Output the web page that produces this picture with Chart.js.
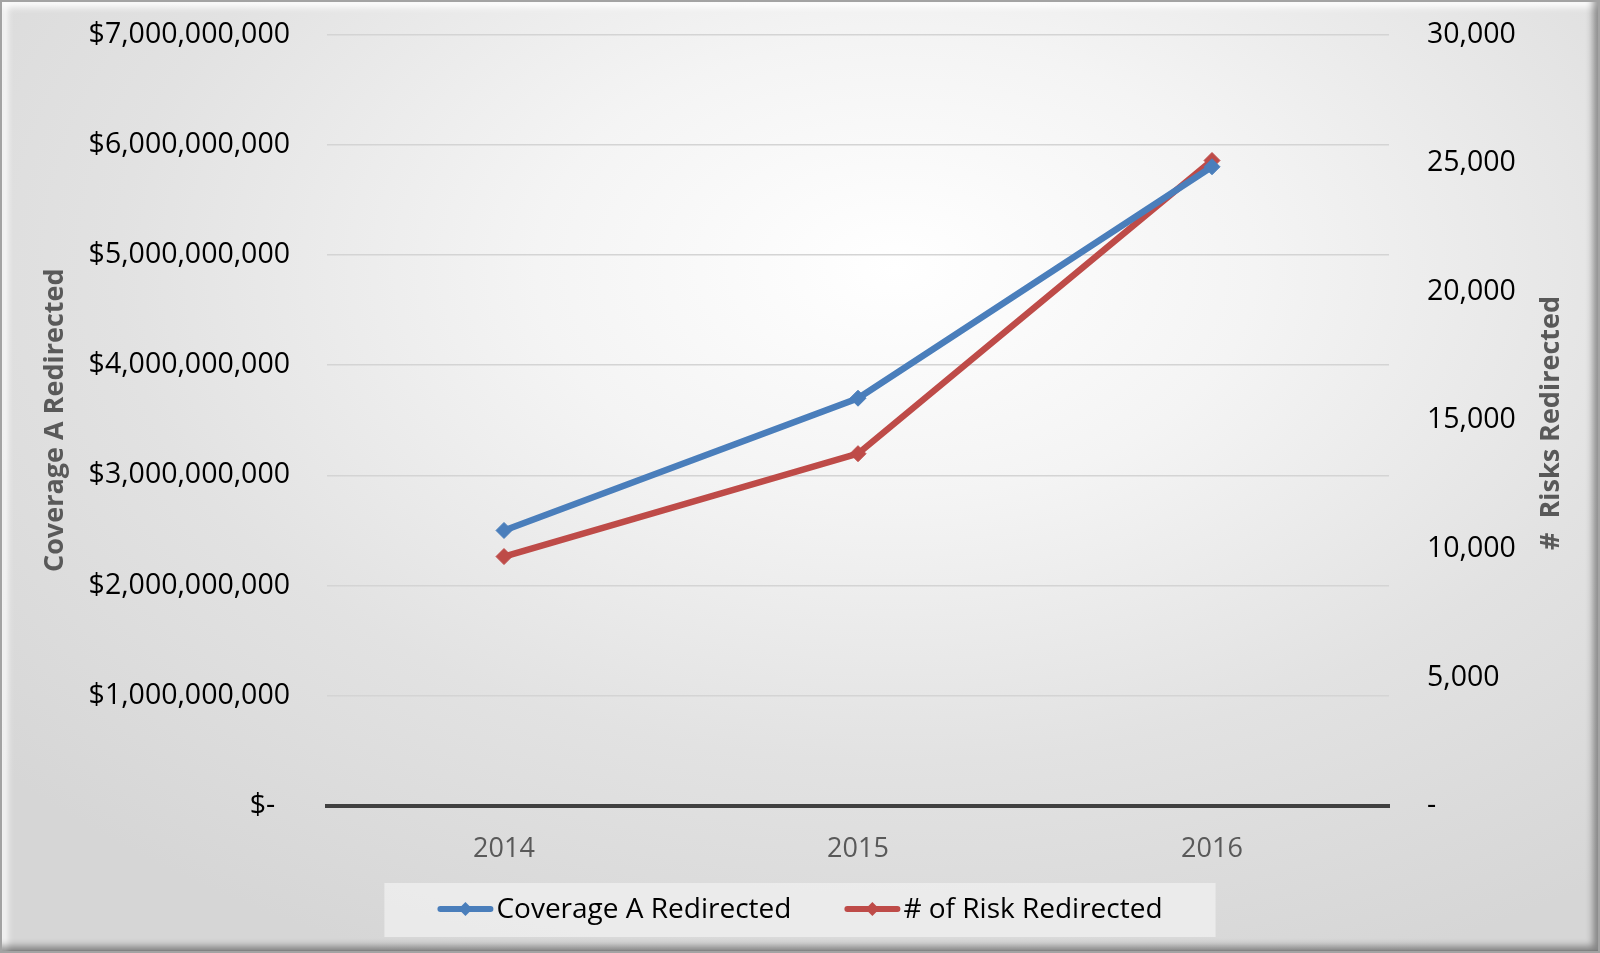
<!DOCTYPE html>
<html lang="en">
<head>
<meta charset="UTF-8">
<title>Coverage A Redirected</title>
<script src="https://cdn.jsdelivr.net/npm/chart.js"></script>
<style>
  html, body { margin: 0; padding: 0; background: #fff; }
  #frame {
    position: relative;
    width: 1600px; height: 953px;
    box-sizing: border-box;
    border: 2px solid #a3a3a3;
    background: radial-gradient(ellipse 75% 80% at 56% 28%, #ffffff 0%, #f4f4f4 30%, #e2e2e2 65%, #d6d6d6 100%);
    box-shadow: inset -9px -9px 7px -4px rgba(0,0,0,0.38), inset 9px 9px 7px -4px rgba(255,255,255,0.95), inset 2px 0 2px rgba(0,0,0,0.25);
  }
  #wrap { position: absolute; left: -2px; top: -2px; width: 1600px; height: 953px; }
</style>
</head>
<body>
<div id="frame">
  <div id="wrap"><canvas id="chart"></canvas></div>
</div>
<script>
  const years = ['2014', '2015', '2016'];
  const coverageA = [2500000000, 3700000000, 5800000000];
  const risks = [9700, 13700, 25100];

  const blue = '#4a7ebb';
  const red = '#be4b48';
  const fontFam = "'Open Sans', sans-serif";

  // legend drawn by hand so the line sample can carry the diamond marker
  const legendBox = {
    id: 'legendBox',
    afterDraw(chart) {
      const ctx = chart.ctx;
      const cx = chart.width / 2;
      const cy = 909;
      ctx.save();
      ctx.font = '28px ' + fontFam;
      const items = chart.data.datasets.map(ds => ({ text: ds.label, color: ds.borderColor, w: ctx.measureText(ds.label).width }));
      const lineW = 56, gapT = 3, gapI = 53;
      let total = 0;
      items.forEach((it, i) => { total += lineW + gapT + it.w + (i ? gapI : 0); });
      let x = cx - total / 2;
      ctx.fillStyle = 'rgba(240,240,240,0.75)';
      ctx.fillRect(x - 53, 883, total + 106, 54);
      items.forEach((it, i) => {
        if (i) x += gapI;
        ctx.strokeStyle = it.color;
        ctx.lineWidth = 6;
        ctx.lineCap = 'round';
        ctx.beginPath();
        ctx.moveTo(x + 3, cy);
        ctx.lineTo(x + lineW - 3, cy);
        ctx.stroke();
        ctx.fillStyle = it.color;
        ctx.beginPath();
        const mx = x + lineW / 2;
        ctx.moveTo(mx - 7, cy); ctx.lineTo(mx, cy - 7); ctx.lineTo(mx + 7, cy); ctx.lineTo(mx, cy + 7);
        ctx.closePath();
        ctx.fill();
        x += lineW + gapT;
        ctx.fillStyle = '#000';
        ctx.textBaseline = 'middle';
        ctx.fillText(it.text, x, cy + 1);
        x += it.w;
      });
      ctx.restore();
    }
  };

  // right axis title reads bottom-to-top like the left one
  const rightTitle = {
    id: 'rightTitle',
    afterDraw(chart) {
      const ctx = chart.ctx;
      ctx.save();
      ctx.translate(1551, 423);
      ctx.rotate(-Math.PI / 2);
      ctx.font = 'bold 27px ' + fontFam;
      ctx.fillStyle = '#595959';
      ctx.textAlign = 'center';
      ctx.textBaseline = 'middle';
      ctx.fillText('#  Risks Redirected', 0, 0);
      ctx.restore();
    }
  };

  // keep the tick padding from pushing the plot area down
  const fitY = width => s => { s.width = width; s.paddingTop = 17; s.paddingBottom = 17; };

  new Chart(document.getElementById('chart'), {
    type: 'line',
    data: {
      labels: years,
      datasets: [{
        label: 'Coverage A Redirected',
        data: coverageA,
        yAxisID: 'y',
        borderColor: blue,
        backgroundColor: blue,
        borderWidth: 6.5,
        pointStyle: 'rectRot',
        pointRadius: 8,
        pointBorderWidth: 1,
        tension: 0
      }, {
        label: '# of Risk Redirected',
        data: risks,
        yAxisID: 'y1',
        borderColor: red,
        backgroundColor: red,
        borderWidth: 6.5,
        pointStyle: 'rectRot',
        pointRadius: 8,
        pointBorderWidth: 1,
        tension: 0
      }]
    },
    options: {
      responsive: true,
      maintainAspectRatio: false,
      animation: false,
      layout: { padding: { top: 34.5, bottom: 87, left: 0, right: 0 } },
      plugins: {
        legend: { display: false },
        tooltip: { enabled: false }
      },
      scales: {
        x: {
          offset: true,
          grid: { display: false, drawTicks: false },
          border: { display: true, color: '#404040', width: 4 },
          ticks: { color: '#595959', font: { family: fontFam, size: 27 }, padding: 27 },
          afterFit: s => { s.height = 60; }
        },
        y: {
          position: 'left',
          min: 0, max: 7000000000,
          ticks: {
            stepSize: 1000000000,
            color: '#000',
            padding: 37,
            font: { family: fontFam, size: 28.5 },
            callback: v => v === 0 ? '$-  ' : '$' + v.toLocaleString('en-US')
          },
          grid: { color: '#d4d4d4', lineWidth: 1.5, drawTicks: false },
          border: { display: false },
          title: {
            display: true,
            text: 'Coverage A Redirected',
            color: '#595959',
            font: { family: fontFam, size: 27, weight: 'bold' },
            padding: { top: 39, bottom: 0 }
          },
          afterFit: fitY(327)
        },
        y1: {
          position: 'right',
          min: 0, max: 30000,
          ticks: {
            stepSize: 5000,
            color: '#000',
            padding: 38,
            font: { family: fontFam, size: 28.5 },
            callback: v => v === 0 ? '-' : v.toLocaleString('en-US')
          },
          grid: { display: false, drawTicks: false },
          border: { display: false },
          afterFit: fitY(211)
        }
      }
    },
    plugins: [legendBox, rightTitle]
  });
</script>
</body>
</html>
